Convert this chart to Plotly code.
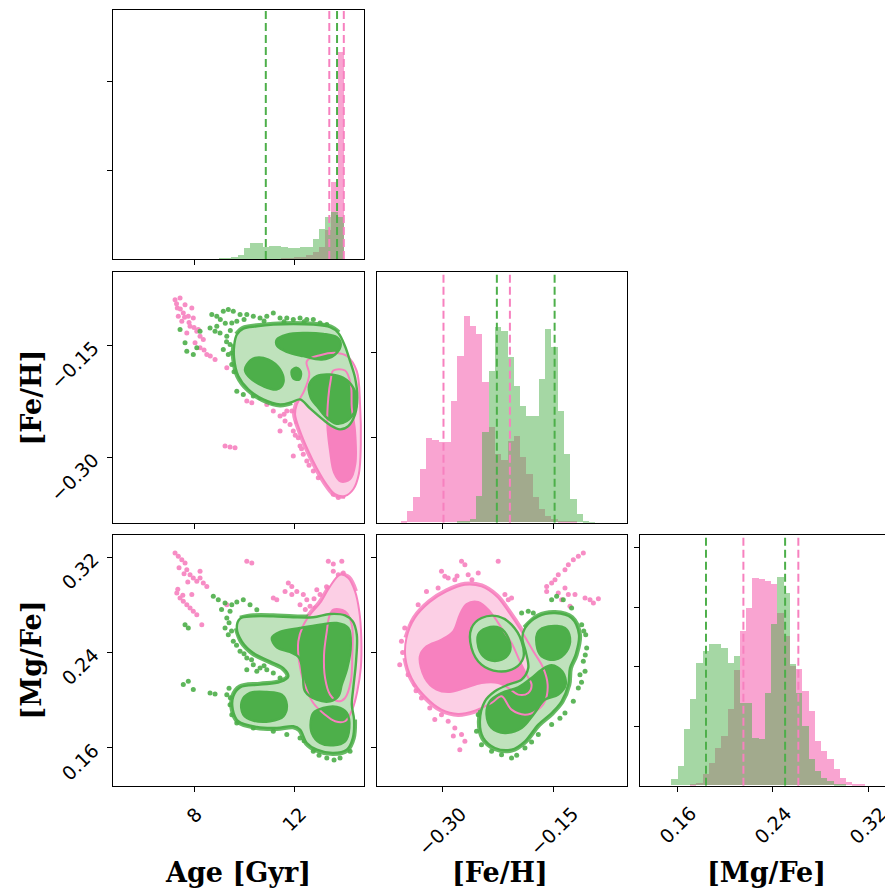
import plotly.graph_objects as go

GREEN = "#4daf4a"
PINK = "#f781bf"
GREEN_LIGHT = "#bfe2bc"
PINK_LIGHT = "#fccfe5"

# ---------------- 1D histograms (counts per bin) ----------------
age_bin_start, age_bin_width = 7.0, 0.25
age_counts_green = [0, 0, 0, 0, 0, 0, 0, 0, 0.3, 0.5, 1.7, 4, 10.7, 15.7, 15.7, 12.3, 13.3, 13.3,
                    11.7, 10.7, 10.7, 11.7, 12.3, 20, 30, 42, 47, 42]
age_counts_pink = [0, 0, 0, 0, 0, 0, 0, 0, 0, 0, 0, 0, 0, 0, 0, 0, 0, 0,
                   0.3, 0.7, 1.2, 2.3, 4, 7.3, 12.3, 29, 77, 207]

feh_bin_start, feh_bin_width = -0.355, 0.00842
feh_counts_green = [0, 0, 0, 0, 0, 0, 0, 0, 0, 0.5, 1, 3.3, 26.7, 90, 151.7, 195, 191.7, 165,
                    136.7, 116.7, 106.7, 106.7, 143.3, 193.3, 175, 111.7, 68.3, 23.3, 8.3, 1.7, 0.3]
feh_counts_pink = [0.5, 11, 25.7, 53.3, 84.3, 82.3, 80, 80, 121.7, 166.7, 206.7, 196.7, 188.3, 140,
                   95, 68.3, 62.3, 81.7, 86.7, 65, 48.3, 25, 13.3, 6.7, 3.3, 1.7, 1, 0.5, 0, 0, 0]

mgfe_bin_start, mgfe_bin_width = 0.155, 0.005235
mgfe_counts_green = [6, 19.3, 56, 86, 122.7, 134.3, 141, 141.7, 137, 122.7, 129.3, 82.7, 82.7, 47.7,
                     46, 92.7, 161, 208.7, 192.7, 121, 92.7, 59.3, 26, 14.3, 7.7, 4.3, 1.5, 0.5, 0, 0, 0]
mgfe_counts_pink = [0, 0, 0, 0.5, 2.7, 11, 22.7, 37.7, 49.3, 76, 115, 154.3, 177.7, 207.7, 206.7,
                    204.3, 201, 172.7, 149.3, 119, 116, 94.3, 74.3, 44.3, 34.3, 26, 16, 7.7, 3, 1.5, 0.5]

# quantile (dashed) lines
age_q_green = [10.87, 13.72]
age_q_pink = [13.41, 13.99]
feh_q_green = [-0.2266, -0.1491]
feh_q_pink = [-0.2982, -0.2091]
mgfe_q_green = [0.1838, 0.2502]
mgfe_q_pink = [0.2152, 0.2613]

# ---------------- 2D contours: Age vs [Fe/H] ----------------
age_feh_green_outer = [(9.71, -0.1353), (9.97, -0.1273), (10.51, -0.1242), (11.17, -0.1220), (11.97, -0.1211),
                       (12.77, -0.1220), (13.44, -0.1255), (13.77, -0.1331), (14.04, -0.1509), (14.24, -0.1709),
                       (14.44, -0.1932), (14.53, -0.2199), (14.44, -0.2421), (14.17, -0.2577), (13.84, -0.2621),
                       (13.44, -0.2564), (13.04, -0.2457), (12.64, -0.2341), (12.24, -0.2221), (11.91, -0.2257),
                       (11.44, -0.2288), (10.77, -0.2221), (10.17, -0.2087), (9.77, -0.1909), (9.60, -0.1665),
                       (9.61, -0.1487)]
age_feh_green_inner = [
    [(11.31, -0.1420), (11.71, -0.1353), (12.37, -0.1331), (13.17, -0.1344), (13.71, -0.1389), (13.87, -0.1487),
     (13.64, -0.1620), (13.11, -0.1687), (12.37, -0.1642), (11.71, -0.1585), (11.33, -0.1509)],
    [(10.11, -0.1754), (10.44, -0.1665), (10.97, -0.1687), (11.44, -0.1820), (11.57, -0.1998), (11.31, -0.2087),
     (10.77, -0.2043), (10.24, -0.1932), (10.04, -0.1834)],
    [(11.91, -0.1834), (12.11, -0.1798), (12.27, -0.1852), (12.21, -0.1954), (11.97, -0.1941)],
    [(12.61, -0.2021), (12.91, -0.1909), (13.44, -0.1887), (13.97, -0.1932), (14.37, -0.2065), (14.51, -0.2243),
     (14.40, -0.2399), (14.11, -0.2510), (13.71, -0.2546), (13.31, -0.2466), (12.97, -0.2332), (12.67, -0.2199)],
]
age_feh_pink_outer = [(12.51, -0.1709), (13.04, -0.1629), (13.71, -0.1598), (14.13, -0.1642), (14.51, -0.1843),
                      (14.64, -0.2288), (14.67, -0.2822), (14.59, -0.3222), (14.37, -0.3422), (14.04, -0.3511),
                      (13.64, -0.3489), (13.31, -0.3364), (12.91, -0.3142), (12.57, -0.2911), (12.24, -0.2644),
                      (12.04, -0.2421), (12.11, -0.2288), (12.40, -0.2110), (12.61, -0.1887)]
age_feh_pink_inner = [[(13.57, -0.1834), (14.04, -0.1834), (14.27, -0.2021), (14.31, -0.2332), (14.44, -0.2644),
                       (14.45, -0.3089), (14.24, -0.3289), (13.87, -0.3320), (13.60, -0.3200), (13.44, -0.2911),
                       (13.33, -0.2555), (13.37, -0.2199), (13.47, -0.1954)]]
age_feh_pink_pts = [(7.24, -0.0886), (7.44, -0.0864), (7.33, -0.0997), (7.57, -0.1064), (7.77, -0.1108),
                    (7.97, -0.1131), (7.51, -0.1175), (7.84, -0.1242), (8.11, -0.1309), (8.24, -0.1375),
                    (8.37, -0.1420), (7.71, -0.1331), (8.04, -0.1464), (8.24, -0.1531), (8.51, -0.1620),
                    (8.84, -0.1687), (7.37, -0.1108), (7.64, -0.0953), (7.91, -0.0997), (8.17, -0.1286),
                    (9.31, -0.1798), (10.11, -0.2243), (10.31, -0.2265), (10.91, -0.2288), (11.17, -0.2377),
                    (11.44, -0.2443), (11.64, -0.2510), (11.84, -0.2555), (11.97, -0.2644), (12.17, -0.2733),
                    (12.24, -0.2844), (12.37, -0.2955), (12.51, -0.3044), (12.77, -0.3178), (12.97, -0.3267),
                    (11.44, -0.2644), (11.97, -0.2977), (11.91, -0.2377), (11.71, -0.2377), (12.24, -0.2377),
                    (9.24, -0.2844), (9.44, -0.2857), (9.64, -0.2866), (13.77, -0.3534), (13.57, -0.3489),
                    (13.97, -0.3511), (7.45, -0.1010), (7.62, -0.1120), (7.80, -0.1190), (8.00, -0.1260),
                    (7.30, -0.0940), (8.40, -0.1560), (8.65, -0.1640), (12.05, -0.2700), (12.30, -0.2880),
                    (12.60, -0.3100), (11.60, -0.2420), (12.10, -0.2520)]
age_feh_green_pts = [(8.71, -0.1086), (8.91, -0.1108), (9.17, -0.1042), (9.37, -0.1019), (9.57, -0.1042),
                     (9.84, -0.1086), (10.11, -0.1086), (10.37, -0.1108), (10.64, -0.1131), (10.91, -0.1108),
                     (11.17, -0.1064), (11.44, -0.1131), (11.71, -0.1131), (11.97, -0.1153), (12.24, -0.1131),
                     (12.51, -0.1153), (12.77, -0.1153), (13.04, -0.1197), (13.31, -0.1220), (8.84, -0.1309),
                     (9.04, -0.1331), (9.31, -0.1375), (9.44, -0.1487), (9.37, -0.1620), (9.51, -0.1754),
                     (9.17, -0.1553), (8.91, -0.1242), (8.64, -0.1264), (7.71, -0.1576), (7.97, -0.1620),
                     (7.64, -0.1464), (8.11, -0.1531), (9.71, -0.2110), (9.97, -0.2154), (10.37, -0.2176),
                     (10.64, -0.2199), (11.17, -0.2265), (8.24, -0.1309), (9.51, -0.1197), (9.71, -0.1175),
                     (7.44, -0.1286), (9.05, -0.1150), (9.25, -0.1200), (9.45, -0.1300), (9.30, -0.1450),
                     (9.50, -0.1600), (9.60, -0.1850), (10.00, -0.1150), (10.80, -0.1170), (11.60, -0.1180),
                     (12.40, -0.1180), (13.10, -0.1230)]

# ---------------- 2D contours: Age vs [Mg/Fe] ----------------
age_mgfe_green_outer = [(9.84, 0.2684), (10.37, 0.2703), (11.17, 0.2703), (11.97, 0.2695), (12.77, 0.2695),
                        (13.44, 0.2723), (14.04, 0.2711), (14.35, 0.2661), (14.51, 0.2549), (14.48, 0.2326),
                        (14.37, 0.2103), (14.31, 0.1963), (14.40, 0.1838), (14.35, 0.1684), (14.11, 0.1586),
                        (13.57, 0.1558), (12.91, 0.1586), (12.51, 0.1642), (12.24, 0.1754), (11.97, 0.1782),
                        (11.31, 0.1768), (10.51, 0.1776), (9.77, 0.1824), (9.55, 0.1921), (9.57, 0.2033),
                        (9.84, 0.2108), (10.64, 0.2131), (11.44, 0.2153), (11.77, 0.2200), (11.57, 0.2270),
                        (11.04, 0.2326), (10.37, 0.2396), (9.91, 0.2494), (9.71, 0.2605)]
age_mgfe_green_inner = [
    [(11.11, 0.2522), (11.44, 0.2572), (12.24, 0.2605), (13.04, 0.2633), (13.71, 0.2647), (14.17, 0.2605),
     (14.27, 0.2466), (14.13, 0.2270), (13.91, 0.2131), (13.77, 0.2033), (13.44, 0.1991), (12.91, 0.2005),
     (12.44, 0.2075), (12.35, 0.2214), (12.21, 0.2354), (11.84, 0.2404), (11.31, 0.2443)],
    [(12.77, 0.1893), (13.17, 0.1935), (13.71, 0.1944), (14.11, 0.1893), (14.21, 0.1768), (14.04, 0.1656),
     (13.57, 0.1623), (13.04, 0.1642), (12.71, 0.1726), (12.67, 0.1824)],
    [(9.91, 0.1991), (10.24, 0.2061), (10.91, 0.2069), (11.51, 0.2047), (11.71, 0.1963), (11.57, 0.1865),
     (11.04, 0.1824), (10.37, 0.1829), (9.97, 0.1879)],
]
age_mgfe_pink_outer = [(13.84, 0.3052), (14.17, 0.3024), (14.44, 0.2912), (14.61, 0.2745), (14.69, 0.2522),
                       (14.67, 0.2270), (14.53, 0.2075), (14.35, 0.1935), (14.04, 0.1824), (13.64, 0.1824),
                       (13.24, 0.1879), (12.77, 0.1977), (12.40, 0.2145), (12.20, 0.2326), (12.17, 0.2494),
                       (12.35, 0.2619), (12.64, 0.2717), (13.04, 0.2815), (13.44, 0.2954)]
age_mgfe_pink_inner = [[(13.57, 0.2759), (14.04, 0.2745), (14.31, 0.2633), (14.33, 0.2382), (14.27, 0.2159),
                        (14.04, 0.2019), (13.77, 0.1991), (13.44, 0.2047), (13.24, 0.2187), (13.20, 0.2382),
                        (13.31, 0.2577), (13.41, 0.2703)]]
age_mgfe_pink_pts = [(7.24, 0.3234), (7.37, 0.3206), (7.51, 0.3178), (7.64, 0.3150), (7.71, 0.3094),
                     (7.84, 0.3052), (7.97, 0.3024), (8.11, 0.2996), (8.24, 0.3024), (8.37, 0.2982),
                     (8.51, 0.2954), (7.31, 0.2898), (7.44, 0.2857), (7.57, 0.2829), (7.71, 0.2801),
                     (7.84, 0.2773), (7.97, 0.2745), (8.11, 0.2717), (8.31, 0.2633), (7.91, 0.2885),
                     (8.24, 0.3080), (10.11, 0.3164), (10.31, 0.3150), (11.77, 0.2982), (11.91, 0.2954),
                     (12.11, 0.2912), (12.37, 0.2885), (12.51, 0.2843), (12.24, 0.2801), (12.64, 0.2787),
                     (12.91, 0.2926), (13.04, 0.2885), (11.17, 0.2857), (11.31, 0.2843), (9.31, 0.2801),
                     (13.37, 0.3164), (13.57, 0.3141), (13.91, 0.3164), (13.77, 0.3052), (13.57, 0.3080),
                     (12.84, 0.2773), (13.11, 0.2773), (11.91, 0.2885), (11.64, 0.2912), (13.97, 0.3066),
                     (7.40, 0.3110), (7.60, 0.3060), (7.75, 0.2990), (7.35, 0.2930), (7.55, 0.2880),
                     (12.80, 0.2850), (13.30, 0.2950), (13.70, 0.3000), (12.45, 0.2760)]
age_mgfe_green_pts = [(8.77, 0.2871), (8.97, 0.2843), (9.24, 0.2815), (9.51, 0.2801), (9.71, 0.2823),
                      (9.97, 0.2843), (10.24, 0.2801), (10.51, 0.2759), (9.44, 0.2745), (9.31, 0.2689),
                      (9.24, 0.2605), (9.37, 0.2549), (9.57, 0.2494), (9.84, 0.2410), (10.11, 0.2354),
                      (10.37, 0.2298), (10.64, 0.2270), (10.91, 0.2256), (11.17, 0.2228), (10.51, 0.2242),
                      (10.11, 0.2256), (7.64, 0.2633), (7.77, 0.2605), (7.57, 0.2131), (7.77, 0.2159),
                      (7.97, 0.2089), (8.64, 0.2061), (8.84, 0.2052), (9.31, 0.2047), (9.44, 0.1963),
                      (9.51, 0.1879), (9.71, 0.1810), (10.37, 0.1768), (11.17, 0.1740), (11.71, 0.1712),
                      (12.24, 0.1684), (12.77, 0.1572), (13.31, 0.1516), (13.84, 0.1516), (14.24, 0.1572),
                      (11.44, 0.2187), (9.10, 0.2760), (9.40, 0.2650), (9.50, 0.2580), (9.70, 0.2460),
                      (10.00, 0.2390), (10.30, 0.2340), (10.80, 0.2290), (9.40, 0.2100), (9.45, 0.2020),
                      (12.40, 0.1660), (13.00, 0.1540), (13.60, 0.1500)]

# ---------------- 2D contours: [Fe/H] vs [Mg/Fe] ----------------
feh_mgfe_pink_outer = [(-0.3479, 0.2522), (-0.3367, 0.2689), (-0.3166, 0.2823), (-0.2942, 0.2912),
                       (-0.2695, 0.2968), (-0.2472, 0.2954), (-0.2270, 0.2871), (-0.2113, 0.2745),
                       (-0.1934, 0.2577), (-0.1777, 0.2410), (-0.1643, 0.2270), (-0.1585, 0.2131),
                       (-0.1621, 0.1991), (-0.1733, 0.1913), (-0.1889, 0.1879), (-0.2069, 0.1921),
                       (-0.2203, 0.2033), (-0.2337, 0.1977), (-0.2561, 0.1913), (-0.2785, 0.1885),
                       (-0.3009, 0.1921), (-0.3233, 0.2033), (-0.3412, 0.2187), (-0.3493, 0.2354)]
feh_mgfe_pink_inner = [[(-0.3300, 0.2368), (-0.3210, 0.2452), (-0.3009, 0.2508), (-0.2852, 0.2577),
                        (-0.2763, 0.2717), (-0.2673, 0.2806), (-0.2516, 0.2823), (-0.2360, 0.2745),
                        (-0.2203, 0.2605), (-0.2069, 0.2480), (-0.1957, 0.2326), (-0.1867, 0.2214),
                        (-0.1800, 0.2131), (-0.1845, 0.2061), (-0.1979, 0.2047), (-0.2113, 0.2103),
                        (-0.2248, 0.2145), (-0.2472, 0.2145), (-0.2695, 0.2103), (-0.2897, 0.2069),
                        (-0.3076, 0.2089), (-0.3233, 0.2187)]]
feh_mgfe_green_outer_a = [(-0.2606, 0.2605), (-0.2472, 0.2689), (-0.2248, 0.2703), (-0.2069, 0.2633),
                          (-0.1934, 0.2494), (-0.1912, 0.2354), (-0.2024, 0.2270), (-0.2248, 0.2242),
                          (-0.2472, 0.2298), (-0.2606, 0.2438)]
feh_mgfe_green_outer_b = [(-0.1889, 0.2605), (-0.1710, 0.2703), (-0.1486, 0.2731), (-0.1263, 0.2689),
                          (-0.1164, 0.2549), (-0.1209, 0.2382), (-0.1285, 0.2270), (-0.1307, 0.2131),
                          (-0.1397, 0.1991), (-0.1531, 0.1893), (-0.1710, 0.1796), (-0.1889, 0.1656),
                          (-0.2069, 0.1586), (-0.2292, 0.1600), (-0.2449, 0.1684), (-0.2494, 0.1824),
                          (-0.2427, 0.1991), (-0.2292, 0.2075), (-0.2113, 0.2131), (-0.1934, 0.2173),
                          (-0.1845, 0.2270), (-0.1880, 0.2410), (-0.1925, 0.2522)]
feh_mgfe_green_inner = [
    [(-0.2516, 0.2549), (-0.2404, 0.2605), (-0.2225, 0.2605), (-0.2113, 0.2522), (-0.2091, 0.2410),
     (-0.2203, 0.2340), (-0.2382, 0.2340), (-0.2494, 0.2410)],
    [(-0.1710, 0.2577), (-0.1576, 0.2619), (-0.1352, 0.2605), (-0.1285, 0.2522), (-0.1330, 0.2410),
     (-0.1486, 0.2340), (-0.1666, 0.2368), (-0.1733, 0.2466)],
    [(-0.2360, 0.1991), (-0.2203, 0.2061), (-0.1979, 0.2108), (-0.1800, 0.2187), (-0.1666, 0.2256),
     (-0.1531, 0.2293), (-0.1388, 0.2242), (-0.1343, 0.2131), (-0.1442, 0.2047), (-0.1621, 0.2005),
     (-0.1777, 0.1879), (-0.1934, 0.1768), (-0.2158, 0.1726), (-0.2337, 0.1768), (-0.2404, 0.1879)],
]
feh_mgfe_pink_pts = [(-0.2740, 0.3164), (-0.2695, 0.3136), (-0.2248, 0.3164), (-0.2651, 0.3052),
                     (-0.2516, 0.3066), (-0.2964, 0.3038), (-0.2919, 0.3024), (-0.2830, 0.3010),
                     (-0.3054, 0.2940), (-0.3210, 0.2912), (-0.3322, 0.2801), (-0.3502, 0.2605),
                     (-0.3546, 0.2494), (-0.3569, 0.2298), (-0.3457, 0.2214), (-0.3367, 0.2131),
                     (-0.3278, 0.2019), (-0.3166, 0.1935), (-0.3009, 0.1879), (-0.2919, 0.1824),
                     (-0.2830, 0.1768), (-0.2740, 0.1712), (-0.2763, 0.1586), (-0.2695, 0.1656),
                     (-0.2158, 0.2885), (-0.2113, 0.2843), (-0.2069, 0.2857), (-0.1598, 0.2954),
                     (-0.1531, 0.2982), (-0.1486, 0.3010), (-0.1442, 0.3052), (-0.1352, 0.3094),
                     (-0.1307, 0.3136), (-0.1240, 0.3178), (-0.1173, 0.3206), (-0.1106, 0.3234),
                     (-0.1352, 0.2940), (-0.1307, 0.2885), (-0.1218, 0.2885), (-0.1083, 0.2857),
                     (-0.1016, 0.2843), (-0.0904, 0.2851), (-0.0971, 0.2815), (-0.1598, 0.2912),
                     (-0.1442, 0.2898), (-0.1397, 0.2843), (-0.1285, 0.2787), (-0.3009, 0.3080),
                     (-0.3233, 0.2717), (-0.3099, 0.1838), (-0.2800, 0.3040), (-0.2600, 0.3010),
                     (-0.3400, 0.2650), (-0.3530, 0.2400), (-0.3350, 0.2080), (-0.2850, 0.1700)]
feh_mgfe_green_pts = [(-0.1531, 0.2843), (-0.1464, 0.2871), (-0.1375, 0.2843), (-0.1263, 0.2773),
                      (-0.1128, 0.2633), (-0.1074, 0.2549), (-0.1061, 0.2438), (-0.1106, 0.2326),
                      (-0.1151, 0.2214), (-0.1173, 0.2103), (-0.1240, 0.1991), (-0.1352, 0.1893),
                      (-0.1531, 0.1796), (-0.1710, 0.1712), (-0.1889, 0.1600), (-0.2069, 0.1516),
                      (-0.2203, 0.1544), (-0.2337, 0.1572), (-0.2472, 0.1628), (-0.2539, 0.1740),
                      (-0.2516, 0.1879), (-0.1934, 0.2731), (-0.1845, 0.2745), (-0.1777, 0.2731),
                      (-0.1083, 0.2242), (-0.1934, 0.2214), (-0.1100, 0.2580), (-0.1080, 0.2380),
                      (-0.1130, 0.2150), (-0.1420, 0.1850), (-0.1800, 0.1650), (-0.2000, 0.1540)]

# which stretches (vertex index runs) of each outer level are fringed by dense samples
age_feh_green_fringe = [(19, 25), (0, 7)]
age_feh_pink_fringe = [(9, 18)]
age_mgfe_green_fringe = [(12, 33), (0, 5)]
age_mgfe_pink_fringe = [(15, 18), (0, 2)]
feh_mgfe_pink_fringe = [(0, 23)]
feh_mgfe_green_fringe_b = [(0, 22)]

# ---------------- axes / ticks ----------------
age_range = [4.77, 14.81]
feh_range = [-0.387, -0.052]
mgfe_range_x = [0.1287, 0.3351]
mgfe_range_y = [0.1284, 0.3382]
age_ticks = [8, 12]
age_ticklabels = ["8", "12"]
feh_ticks = [-0.30, -0.15]
feh_ticklabels = ["\u22120.30", "\u22120.15"]
mgfe_ticks = [0.16, 0.24, 0.32]
mgfe_ticklabels = ["0.16", "0.24", "0.32"]
hist_age_ticks = [88.3, 178]
hist_feh_ticks = [84.8, 169.8]
hist_mgfe_ticks = [59.7, 119.4, 178.7, 238.4]
hist_age_top = 249
hist_feh_top = 250.2
hist_mgfe_top = 250.4

W, H = 893, 895
OFF = 8  # the page body adds an 8 px margin around the figure
cols = [(113.3 - OFF, 364.3 - OFF), (377.3 - OFF, 627.0 - OFF), (640.3 - OFF, 886.3 - OFF)]
rows = [(10.0 - OFF, 259.0 - OFF), (272.3 - OFF, 522.7 - OFF), (535.3 - OFF, 785.7 - OFF)]


def xdom(c):
    return [cols[c][0] / W, cols[c][1] / W]


def ydom(r):
    return [1 - rows[r][1] / H, 1 - rows[r][0] / H]


fig = go.Figure()


def add_hist(ax, start, width, green, pink, qg, qp, top):
    xs = [start + width * (i + 0.5) for i in range(len(green))]
    xa, ya = "x" + ax, "y" + ax
    fig.add_trace(go.Bar(x=xs, y=pink, width=width, marker=dict(color=PINK, line=dict(width=0)),
                         opacity=0.72, xaxis=xa, yaxis=ya, showlegend=False))
    fig.add_trace(go.Bar(x=xs, y=green, width=width, marker=dict(color=GREEN, line=dict(width=0)),
                         opacity=0.5, xaxis=xa, yaxis=ya, showlegend=False))
    for q in qp:
        fig.add_trace(go.Scatter(x=[q, q], y=[0, top], mode="lines", xaxis=xa, yaxis=ya,
                                 line=dict(color=PINK, width=2, dash="8px,4px"), showlegend=False))
    for q in qg:
        fig.add_trace(go.Scatter(x=[q, q], y=[0, top], mode="lines", xaxis=xa, yaxis=ya,
                                 line=dict(color=GREEN, width=2, dash="8px,4px"), showlegend=False))


def poly_xy(p):
    xs = [a for a, b in p] + [p[0][0]]
    ys = [b for a, b in p] + [p[0][1]]
    return xs, ys


def add_fill(ax, p, color):
    xs, ys = poly_xy(p)
    fig.add_trace(go.Scatter(x=xs, y=ys, mode="lines", fill="toself", fillcolor=color,
                             line=dict(width=0, shape="spline", smoothing=1.0), xaxis="x" + ax, yaxis="y" + ax,
                             showlegend=False, hoverinfo="skip"))


def add_line(ax, p, color, w):
    xs, ys = poly_xy(p)
    fig.add_trace(go.Scatter(x=xs, y=ys, mode="lines",
                             line=dict(width=w, color=color, shape="spline", smoothing=1.0),
                             xaxis="x" + ax, yaxis="y" + ax, showlegend=False, hoverinfo="skip"))


def add_fringe(ax, p, runs, color):
    for i0, i1 in runs:
        seg = p[i0:i1 + 1]
        fig.add_trace(go.Scatter(x=[a for a, b in seg], y=[b for a, b in seg], mode="lines", opacity=0.85,
                                 line=dict(width=6, color=color, shape="spline", smoothing=1.0),
                                 xaxis="x" + ax, yaxis="y" + ax, showlegend=False, hoverinfo="skip"))


def add_pts(ax, pts, color):
    fig.add_trace(go.Scatter(x=[a for a, b in pts], y=[b for a, b in pts], mode="markers",
                             marker=dict(color=color, size=5, line=dict(width=0)), opacity=0.9,
                             xaxis="x" + ax, yaxis="y" + ax, showlegend=False))


def add_2d(ax, pink_pts, green_pts, pink_outers, pink_inners, green_outers, green_inners,
           pink_fringes, green_fringes):
    add_pts(ax, pink_pts, PINK)
    for p, runs in zip(pink_outers, pink_fringes):
        add_fringe(ax, p, runs, PINK)
    add_pts(ax, green_pts, GREEN)
    for p, runs in zip(green_outers, green_fringes):
        add_fringe(ax, p, runs, GREEN)
    for p in pink_outers:
        add_fill(ax, p, PINK_LIGHT)
    for p in pink_inners:
        add_fill(ax, p, PINK)
    for p in green_outers:
        add_fill(ax, p, GREEN_LIGHT)
    for p in green_inners:
        add_fill(ax, p, GREEN)
    for p in pink_outers + pink_inners:
        add_line(ax, p, PINK, 2)
    for p in green_outers + green_inners:
        add_line(ax, p, GREEN, 2.4)


add_hist("", age_bin_start, age_bin_width, age_counts_green, age_counts_pink, age_q_green, age_q_pink,
         hist_age_top)
add_2d("2", age_feh_pink_pts, age_feh_green_pts, [age_feh_pink_outer], age_feh_pink_inner,
       [age_feh_green_outer], age_feh_green_inner, [age_feh_pink_fringe], [age_feh_green_fringe])
add_hist("3", feh_bin_start, feh_bin_width, feh_counts_green, feh_counts_pink, feh_q_green, feh_q_pink,
         hist_feh_top)
add_2d("4", age_mgfe_pink_pts, age_mgfe_green_pts, [age_mgfe_pink_outer], age_mgfe_pink_inner,
       [age_mgfe_green_outer], age_mgfe_green_inner, [age_mgfe_pink_fringe], [age_mgfe_green_fringe])
add_2d("5", feh_mgfe_pink_pts, feh_mgfe_green_pts, [feh_mgfe_pink_outer], feh_mgfe_pink_inner,
       [feh_mgfe_green_outer_a, feh_mgfe_green_outer_b], feh_mgfe_green_inner,
       [feh_mgfe_pink_fringe], [[], feh_mgfe_green_fringe_b])
add_hist("6", mgfe_bin_start, mgfe_bin_width, mgfe_counts_green, mgfe_counts_pink, mgfe_q_green,
         mgfe_q_pink, hist_mgfe_top)

TICKFONT = dict(family="DejaVu Sans", size=19, color="black")
base = dict(showline=True, linecolor="black", linewidth=1.4, mirror=True, ticks="outside",
            ticklen=5, tickwidth=1.3, tickcolor="black", showgrid=False, zeroline=False,
            tickfont=TICKFONT)


def axis(dom, rng, tv, tt=None, show=False, anchor=None, angle=None):
    d = dict(base, domain=dom, range=rng, tickvals=tv, showticklabels=show, anchor=anchor)
    if tt is not None:
        d["ticktext"] = tt
    if angle is not None:
        d["tickangle"] = angle
        d["ticklabelstandoff"] = 10
    return d


fig.update_layout(
    width=W, height=H, margin=dict(l=0, r=0, t=0, b=0),
    paper_bgcolor="white", plot_bgcolor="white", barmode="overlay", bargap=0,
    xaxis=axis(xdom(0), age_range, age_ticks, anchor="y"),
    yaxis=axis(ydom(0), [0, hist_age_top], hist_age_ticks, anchor="x"),
    xaxis2=axis(xdom(0), age_range, age_ticks, anchor="y2"),
    yaxis2=axis(ydom(1), feh_range, feh_ticks, feh_ticklabels, show=True, anchor="x2", angle=-45),
    xaxis3=axis(xdom(1), feh_range, feh_ticks, anchor="y3"),
    yaxis3=axis(ydom(1), [0, hist_feh_top], hist_feh_ticks, anchor="x3"),
    xaxis4=axis(xdom(0), age_range, age_ticks, anchor="y4"),
    yaxis4=axis(ydom(2), mgfe_range_y, mgfe_ticks, mgfe_ticklabels, show=True, anchor="x4", angle=-45),
    xaxis5=axis(xdom(1), feh_range, feh_ticks, anchor="y5"),
    yaxis5=axis(ydom(2), mgfe_range_y, mgfe_ticks, anchor="x5"),
    xaxis6=axis(xdom(2), mgfe_range_x, mgfe_ticks, anchor="y6"),
    yaxis6=axis(ydom(2), [0, hist_mgfe_top], hist_mgfe_ticks, anchor="x6"),
)

# rotated x tick labels (centred on their ticks) for the bottom row
ann = []
label_top = 1 - (800 - OFF) / H
for xr, vals, texts in [("x4", age_ticks, age_ticklabels), ("x5", feh_ticks, feh_ticklabels),
                        ("x6", mgfe_ticks, mgfe_ticklabels)]:
    for v, t in zip(vals, texts):
        ann.append(dict(x=v, xref=xr, y=label_top, yref="paper", text=t, showarrow=False,
                        textangle=-45, xanchor="center", yanchor="top", font=TICKFONT))

TITLEFONT = dict(family="DejaVu Serif", size=27, color="black")
for text, px in [("Age [Gyr]", 238.0), ("[Fe/H]", 500), ("[Mg/Fe]", 766)]:
    ann.append(dict(x=(px - OFF) / W, xref="paper", y=1 - (872 - OFF) / H, yref="paper",
                    text="<b>" + text + "</b>", showarrow=False, xanchor="center", yanchor="middle",
                    font=TITLEFONT))
for text, py in [("[Fe/H]", 397.5), ("[Mg/Fe]", 660.5)]:
    ann.append(dict(x=(31 - OFF) / W, xref="paper", y=1 - (py - OFF) / H, yref="paper",
                    text="<b>" + text + "</b>", showarrow=False, textangle=-90, xanchor="center",
                    yanchor="middle", font=TITLEFONT))
fig.update_layout(annotations=ann)

fig.write_html("out.html")
